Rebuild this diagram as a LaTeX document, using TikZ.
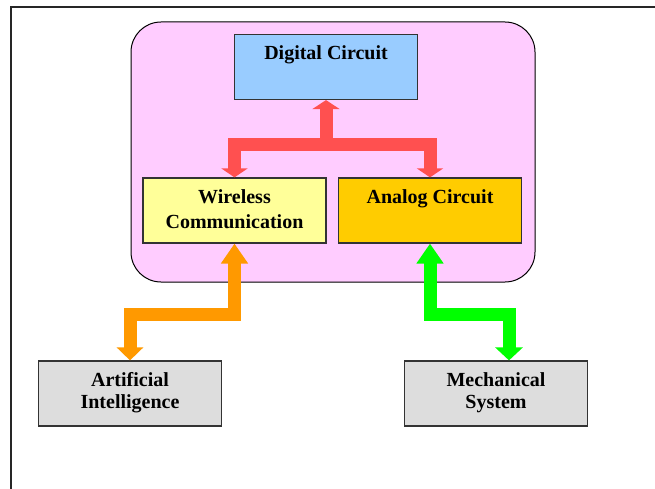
\documentclass[tikz,border=0pt]{standalone}
\usepackage{fontspec}
\setmainfont{Liberation Serif}
\usetikzlibrary{arrows.meta,calc}

\definecolor{panelpink}{HTML}{FFCCFF}
\definecolor{digblue}{HTML}{99CCFF}
\definecolor{wirelessyellow}{HTML}{FFFF99}
\definecolor{analoggold}{HTML}{FFCC00}
\definecolor{boxgray}{HTML}{DDDDDD}
\definecolor{linkred}{HTML}{FF5050}
\definecolor{linkorange}{HTML}{FF9900}
\definecolor{linkgreen}{HTML}{00FF00}
\definecolor{edgegray}{HTML}{333333}

% text of a block: top aligned, first baseline 25pt below the top edge
\newcommand\boxlabel[2][25]{\parbox[c][65pt][t]{183pt}{\centering
  \fontsize{20}{#1}\selectfont\rule{0pt}{25pt}#2}}

\tikzset{
  block/.style={draw=edgegray, line width=1.2pt, inner sep=0pt,
    minimum width=183pt, minimum height=65pt, font=\bfseries},
  fatlink/.style={line width=13pt, line join=miter, line cap=butt},
  redtip/.style={Triangle[length=9pt,width=27pt]},
}

\begin{document}
\begin{tikzpicture}[x=1pt,y=-1pt]
  \useasboundingbox (0,0) rectangle (655,489);

  % page frame
  \draw[black!85, line width=2pt] (11,489) -- (11,7) -- (655,7);

  % system panel
  \draw[fill=panelpink, draw=black, line width=1pt, rounded corners=30pt]
    (131,22) rectangle (535,282);

  % blocks
  \node[block, fill=digblue]        (dc) at (326,67)      {\boxlabel{Digital Circuit}};
  \node[block, fill=wirelessyellow] (wc) at (234.5,210.5) {\boxlabel{Wireless\\Communication}};
  \node[block, fill=analoggold]     (ac) at (430,210.5)   {\boxlabel{Analog Circuit}};
  \node[block, fill=boxgray]        (ai) at (130,393.5)   {\boxlabel[22]{Artificial\\Intelligence}};
  \node[block, fill=boxgray]        (ms) at (496,393.5)   {\boxlabel[22]{Mechanical\\System}};

  % red links between the digital, wireless and analog blocks
  \coordinate (junc) at ([yshift=33pt]dc.south |- wc.north);
  \draw[fatlink, linkred, {Triangle[length=9pt,width=26pt]}-{Triangle[length=9pt,width=26pt]}]
    (wc.north) -- ++(0,-33) -| (ac.north);
  \draw[fatlink, linkred, -{Triangle[length=9pt,width=27pt]}]
    (junc) -- (dc.south);

  % orange link: wireless <-> artificial intelligence
  \draw[fatlink, linkorange, {Triangle[length=20pt,width=26pt]}-{Triangle[length=13pt,width=26pt]}]
    (wc.south) -- ++(0,71) -| (ai.north);

  % green link: analog <-> mechanical
  \draw[fatlink, linkgreen, {Triangle[length=20pt,width=26pt]}-{Triangle[length=13pt,width=27pt]}]
    (ac.south) -- ++(0,71) -| ([xshift=13pt]ms.north);
\end{tikzpicture}
\end{document}
